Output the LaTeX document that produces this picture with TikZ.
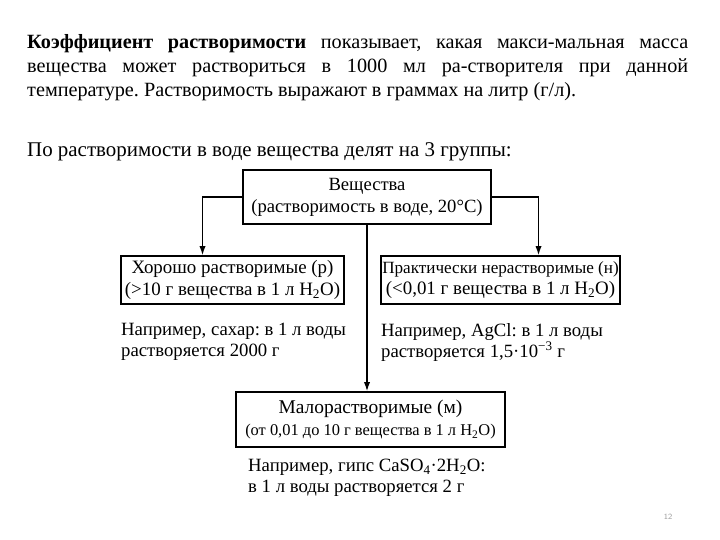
\documentclass[tikz,border=0pt]{standalone}
\usepackage{fontspec}
\setmainfont{Liberation Serif}
\usepackage{tikz}
\usetikzlibrary{arrows.meta,calc}
\definecolor{seite}{HTML}{9A9A9A}
\tikzset{
  kasten/.style={draw,line width=1.6pt,align=center,inner sep=0pt,font=\fontsize{19}{21.5}\selectfont},
  pfeil/.style={-{Latex[length=3.2mm,width=2.2mm]},line width=1.3pt},
  beisp/.style={anchor=north west,align=left,inner sep=0pt,font=\fontsize{18.8}{21}\selectfont},
  absatz/.style={anchor=north west,inner sep=0pt,font=\fontsize{20.3}{24}\selectfont},
}

\begin{document}
\frenchspacing
\begin{tikzpicture}[x=1bp,y=-1bp]
  \useasboundingbox (0,0) rectangle (720,540);
  \node[absatz,text width=661bp,align=justify] (text) at (27,34)
    {\textbf{Коэффициент растворимости} показывает, какая макси-мальная масса\linebreak
     вещества может раствориться в 1000 мл ра-створителя при данной\linebreak
     температуре. Растворимость выражают в граммах на литр (г/л).};
  \node[absatz,font=\fontsize{21}{24}\selectfont] (gruppen) at (27,142) {По растворимости в воде вещества делят на 3 группы:};
  \node[kasten,font=\fontsize{18.7}{22}\selectfont,minimum width=248bp,minimum height=54bp] (stoffe) at (367,197)
    {Вещества\\(растворимость в воде, 20°C)};
  \node[kasten,minimum width=223bp,minimum height=48bp] (gut) at (232.5,280)
    {Хорошо растворимые (р)\\(>10 г вещества в 1 л H\textsubscript{2}O)};
  \node[kasten,minimum width=239bp,minimum height=48bp] (unl) at (500.5,280)
    {{\fontsize{17.2}{21.5}\selectfont Практически нерастворимые (н)}\\(<0,01 г вещества в 1 л H\textsubscript{2}O)};
  \node[kasten,font=\fontsize{16.5}{22}\selectfont,minimum width=269bp,minimum height=55bp] (malo) at (370.5,419.5)
    {{\fontsize{19.5}{22}\selectfont Малорастворимые (м)}\\(от 0,01 до 10 г вещества в 1 л H\textsubscript{2}O)};
  \node[beisp] (bsp1) at (121,323) {Например, сахар: в 1 л воды\\растворяется 2000 г};
  \node[beisp] (bsp2) at (381,323) {Например, AgCl: в 1 л воды\\растворяется 1,5·10\textsuperscript{−3} г};
  \node[beisp] (bsp3) at (248,459) {Например, гипс CaSO\textsubscript{4}·2H\textsubscript{2}O:\\в 1 л воды растворяется 2 г};
  \draw[pfeil] (stoffe.west) -| ([xshift=-30bp]gut.north);
  \draw[pfeil] (stoffe.east) -| ([xshift=38bp]unl.north);
  \draw[pfeil] (stoffe.south) -- (stoffe.south |- malo.north);
  \node[text=seite,font=\fontsize{8}{9}\sffamily] (seitennr) at (668,517) {12};
\end{tikzpicture}
\end{document}
